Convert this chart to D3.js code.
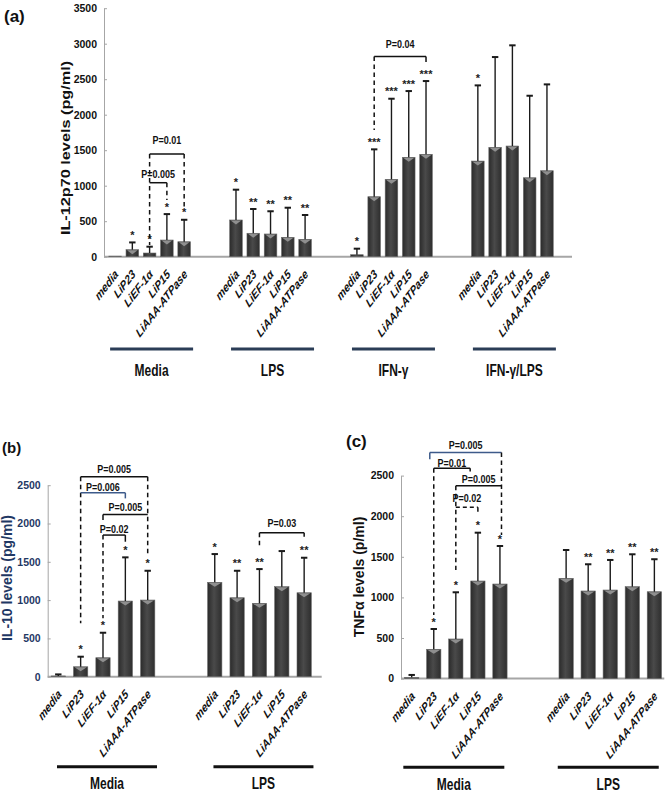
<!DOCTYPE html>
<html><head><meta charset="utf-8">
<script src="https://cdn.jsdelivr.net/npm/d3@7"></script>
<style>
body{margin:0;background:#fff}
svg{display:block}
text{font-family:Arial,"Liberation Sans",sans-serif;font-weight:bold}
</style>
</head><body>
<svg id="chart" width="667" height="794"></svg>
<script>
// ---------- data ----------
const categories = ["media","LiP23","LiEF-1α","LiP15","LiAAA-ATPase"];
const groupsA = ["Media","LPS","IFN-γ","IFN-γ/LPS"];
const groupsBC = ["Media","LPS"];

const il12Ticks = [0,500,1000,1500,2000,2500,3000,3500];
const il12Mean   = [8,99,52,235,211, 517,330,320,273,245, 28,845,1090,1400,1442, 1347,1540,1559,1112,1211];
const il12ErrTop = [8,201,141,600,520, 944,672,640,690,587, 113,1512,2225,2333,2474, 2413,2812,2977,2267,2427];
const il12Stars  = ["","*","*","*","*", "*","**","**","**","**", "*","***","***","***","***", "*","","","",""];

const bcTicks = [0,500,1000,1500,2000,2500];
const il10Mean   = [10,130,248,988,1001, 1232,1031,958,1175,1096];
const il10ErrTop = [30,261,574,1558,1383, 1601,1383,1405,1640,1553];
const il10Stars  = ["","*","*","*","*", "*","**","**","","**"];

const tnfMean   = [15,361,488,1202,1165, 1235,1079,1091,1132,1070];
const tnfErrTop = [45,611,1063,1797,1633, 1584,1408,1461,1531,1470];
const tnfStars  = ["","*","*","*","*", "","**","**","**","**"];

// brackets: label, left slot, right slot, level, label level, left leg end, right leg end, left dashed, right dashed, blue, horizontal dashed
const il12Brackets = [
  ["P=0.01", 2, 4, 1446, 1583, 165, 704, true, true, false, false],
  ["P=0.005", 2, 3, 1042, 1113, 1042, 799, true, true, false, false],
  ["P=0.04", 15, 18, 2820, 2940, 1784, 2742, true, false, false, false]
];
const il10Brackets = [
  ["P=0.005", 1, 4, 2610, 2654, 697, 1566, true, true, false, false],
  ["P=0.006", 1, 3, 2401, 2427, 2401, 2328, false, false, true, false],
  ["P=0.005", 2, 4, 2119, 2162, 2045, 2119, false, false, false, false],
  ["P=0.02", 2, 3, 1849, 1873, 762, 1762, true, false, false, false],
  ["P=0.03", 9, 11, 1879, 1950, 1676, 1827, true, false, false, false]
];
const tnfBrackets = [
  ["P=0.005", 0.82, 4.07, 2783, 2825, 2702, 1769, false, true, true, false],
  ["P=0.01", 1, 2.65, 2591, 2611, 783, 2549, true, false, false, false],
  ["P=0.005", 2, 4.07, 2376, 2413, 1338, 2376, true, false, false, false],
  ["P=0.02", 2, 3, 2110, 2179, 2110, 2044, false, true, false, true]
];

// ---------- drawing ----------
const svg = d3.select("#chart");
const defs = svg.append("defs");
const grad = defs.append("linearGradient").attr("id","barGrad").attr("x1","0").attr("x2","1").attr("y1","0").attr("y2","0");
grad.append("stop").attr("offset","0%").attr("stop-color","#2b2b2b");
grad.append("stop").attr("offset","45%").attr("stop-color","#4a4a4a");
grad.append("stop").attr("offset","100%").attr("stop-color","#2e2e2e");

const FONT = 'Arial,"Liberation Sans",sans-serif';
const BLUE = "#3d5a8a";

function slotOf(i){ return Math.floor(i/5)*7 + (i%5); }

function drawPanel(o){
  const g = svg.append("g");
  const x = d3.scaleLinear().domain(o.xDomain).range(o.xRange);
  const y = d3.scaleLinear().domain([0,o.yMax]).range(o.yRange);

  // y axis
  const ax = d3.axisLeft(y).tickValues(o.ticks).tickSizeInner(-3).tickSizeOuter(0).tickPadding(7).tickFormat(d3.format("d"));
  const ga = g.append("g").attr("transform",`translate(${o.xRange[0]},0)`).call(ax);
  ga.select(".domain").attr("stroke","#a6a6a6").attr("stroke-width",1);
  ga.selectAll(".tick line").attr("stroke","#a6a6a6");
  ga.selectAll(".tick text").attr("font-size",10.5).attr("font-weight","bold")
    .attr("font-family",FONT).attr("fill",o.tickColor);

  // baseline
  g.append("line").attr("x1",o.xRange[0]).attr("x2",o.xRange[1])
    .attr("y1",y(0)).attr("y2",y(0)).attr("stroke","#a6a6a6").attr("stroke-width",2);

  const bw = o.barWidth;
  const data = o.mean.map((m,i)=>({m, e:o.err[i], s:o.stars[i], cx:x(slotOf(i)), cat:categories[i%5]}));

  // bars
  g.selectAll("rect.bar").data(data).join("rect").attr("class","bar")
    .attr("x",d=>d.cx-bw/2).attr("width",bw)
    .attr("y",d=>y(d.m)).attr("height",d=>y(0)-y(d.m))
    .attr("fill","url(#barGrad)").attr("stroke","#6a6a6a").attr("stroke-width",0.6);
  // top bevel highlight
  g.selectAll("path.hl").data(data.filter(d=>y(0)-y(d.m)>4)).join("path").attr("class","hl")
    .attr("d",d=>{const t=y(d.m);return `M${d.cx-bw/2+1},${t+0.6}L${d.cx+bw/2-1},${t+0.6}L${d.cx},${t+4.5}Z`;})
    .attr("fill","#8f8f8f");

  // error bars
  const eb = data.filter(d=>d.e>d.m);
  g.selectAll("line.err").data(eb).join("line").attr("class","err")
    .attr("x1",d=>d.cx).attr("x2",d=>d.cx).attr("y1",d=>y(d.m)).attr("y2",d=>y(d.e))
    .attr("stroke","#1a1a1a").attr("stroke-width",1.4);
  g.selectAll("line.cap").data(eb).join("line").attr("class","cap")
    .attr("x1",d=>d.cx-3.2).attr("x2",d=>d.cx+3.2).attr("y1",d=>y(d.e)).attr("y2",d=>y(d.e))
    .attr("stroke","#1a1a1a").attr("stroke-width",2);

  // stars
  g.selectAll("text.star").data(data.filter(d=>d.s)).join("text").attr("class","star")
    .attr("x",d=>d.cx).attr("y",d=>y(Math.max(d.e,d.m))-1.5)
    .attr("dy","0.55em").attr("text-anchor","middle").attr("font-size",11).attr("fill","#222")
    .text(d=>d.s).attr("transform",d=>`translate(0,-8)`);

  // brackets
  o.brackets.forEach(b=>{
    const [lab,l,r,lev,labLev,le,re,ld,rd,blue,hd] = b;
    const col = blue ? BLUE : "#111";
    const x1 = x(l), x2 = x(r), yl = y(lev);
    g.append("line").attr("x1",x1).attr("x2",x2).attr("y1",yl).attr("y2",yl)
      .attr("stroke",col).attr("stroke-width",1.5).attr("stroke-dasharray",hd?"4,3":null);
    if (le < lev) g.append("line").attr("x1",x1).attr("x2",x1).attr("y1",yl).attr("y2",y(le))
      .attr("stroke",ld?"#111":col).attr("stroke-width",1.5).attr("stroke-dasharray",ld?"4.5,3.5":null);
    if (re < lev) g.append("line").attr("x1",x2).attr("x2",x2).attr("y1",yl).attr("y2",y(re))
      .attr("stroke",rd?"#111":col).attr("stroke-width",1.5).attr("stroke-dasharray",rd?"4.5,3.5":null);
    g.append("text").attr("transform",`translate(${(x1+x2)/2},${y(labLev)}) scale(1,1.15)`)
      .attr("text-anchor","middle").attr("font-size",9).attr("fill","#111").text(lab);
  });

  // category labels
  g.selectAll("text.cat").data(data).join("text").attr("class","cat")
    .attr("transform",d=>`translate(${d.cx-1},${y(0)+12}) scale(1,1.3) rotate(-45)`)
    .attr("text-anchor","end").attr("dy","0.7em").attr("font-size",9.8).attr("font-style","italic")
    .attr("fill","#111").text(d=>d.cat);

  // group lines and titles
  o.groups.forEach((name,gi)=>{
    const c = (x(gi*7) + x(gi*7+4))/2 + o.groupShift;
    g.append("line").attr("x1",c-o.lineHalf).attr("x2",c+o.lineHalf)
      .attr("y1",o.lineY).attr("y2",o.lineY).attr("stroke",o.lineColor).attr("stroke-width",3);
    g.append("text").attr("transform",`translate(${c},${o.titleY}) scale(1,1.35)`)
      .attr("text-anchor","middle").attr("font-size",12).attr("fill","#111").text(name);
  });

  // y title
  g.append("text").attr("transform",`translate(${o.yTitleX},${o.yTitleY}) scale(1,${o.yTitleK}) rotate(-90)`)
    .attr("text-anchor","middle").attr("font-size",o.yTitleSize).attr("fill",o.tickColor).text(o.yTitle);

  // panel letter
  g.append("text").attr("x",o.letterX).attr("y",o.letterY).attr("font-size",o.letterSize)
    .attr("fill","#111").text(o.letter);
}

drawPanel({
  mean:il12Mean, err:il12ErrTop, stars:il12Stars, brackets:il12Brackets, groups:groupsA,
  xDomain:[-0.64,26.45], xRange:[104,572], yMax:3500, yRange:[256.7,8.2], ticks:il12Ticks,
  barWidth:12.6, tickColor:"#111", lineY:349, lineHalf:41.5, lineColor:"#2b3d57", groupShift:2, titleY:375.5,
  yTitle:"IL-12p70 levels (pg/ml)", yTitleX:70, yTitleY:148, yTitleK:1.25, yTitleSize:13,
  letter:"(a)", letterX:4, letterY:21.5, letterSize:17
});
drawPanel({
  mean:il10Mean, err:il10ErrTop, stars:il10Stars, brackets:il10Brackets, groups:groupsBC,
  xDomain:[-0.474,11.785], xRange:[47.7,321.7], yMax:2500, yRange:[676.7,485.2], ticks:bcTicks,
  barWidth:14.3, tickColor:"#1f3864", lineY:766.7, lineHalf:50, lineColor:"#111", groupShift:4, titleY:789,
  yTitle:"IL-10 levels (pg/ml)", yTitleX:11.5, yTitleY:578, yTitleK:1.0, yTitleSize:14,
  letter:"(b)", letterX:2, letterY:452.5, letterSize:15
});
drawPanel({
  mean:tnfMean, err:tnfErrTop, stars:tnfStars, brackets:tnfBrackets, groups:groupsBC,
  xDomain:[-0.485,11.45], xRange:[401,664.3], yMax:2500, yRange:[678.6,475.6], ticks:bcTicks,
  barWidth:14.3, tickColor:"#111", lineY:767.3, lineHalf:50.5, lineColor:"#111", groupShift:-2, titleY:789.5,
  yTitle:"TNFα levels (p/ml)", yTitleX:363.5, yTitleY:577, yTitleK:1.0, yTitleSize:14,
  letter:"(c)", letterX:346, letterY:447, letterSize:17
});
</script>
</body></html>
